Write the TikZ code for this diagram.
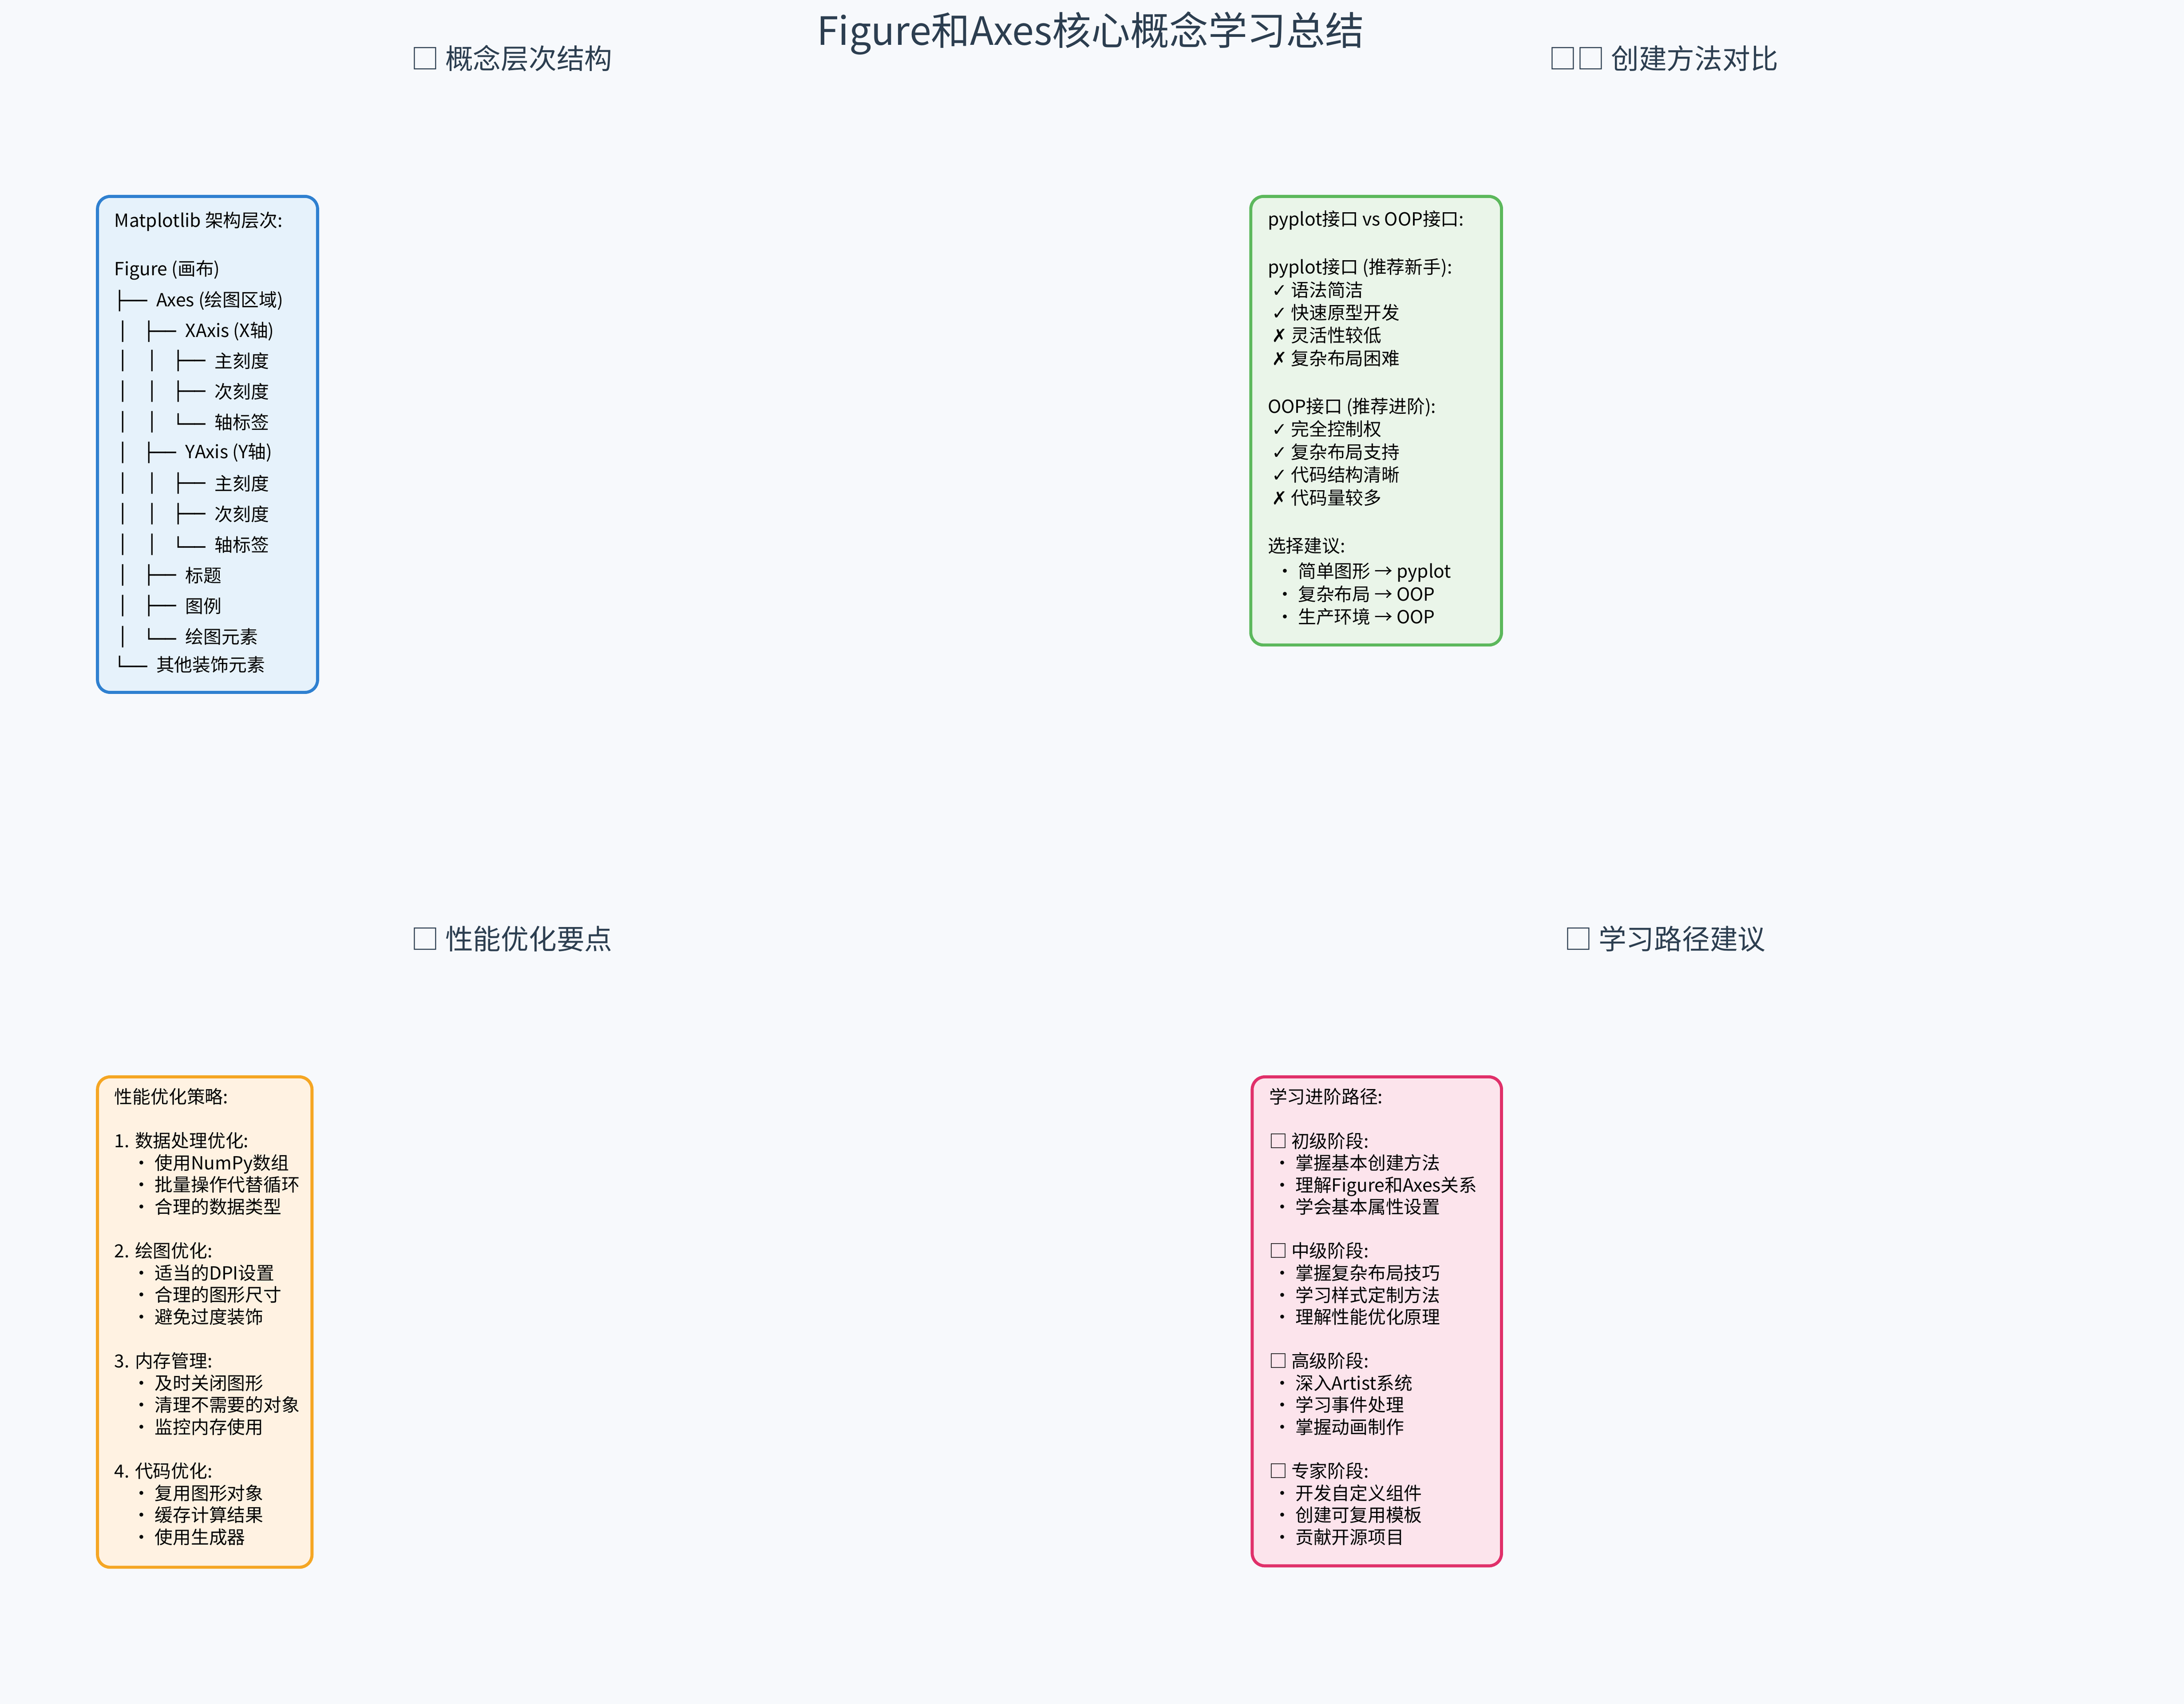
\documentclass[tikz,border=0pt]{standalone}
\usepackage{fontspec}
\setmainfont{Noto Sans CJK SC}
\newfontfamily\djv{DejaVu Sans}
\definecolor{bg}{HTML}{F7F9FC}
\definecolor{ink}{HTML}{2C3E50}
\definecolor{bbl}{HTML}{2F80D0}\definecolor{fbl}{HTML}{E6F2FB}
\definecolor{bgr}{HTML}{5CB85C}\definecolor{fgr}{HTML}{EAF5E9}
\definecolor{bor}{HTML}{F5A623}\definecolor{for}{HTML}{FFF2E2}
\definecolor{bpk}{HTML}{E0306A}\definecolor{fpk}{HTML}{FCE4EC}
\tikzset{
 panel/.style={draw=#1,line width=2.2pt,rounded corners=9pt},
 hd/.style={font=\fontsize{20}{24}\selectfont,text=ink,anchor=west,inner sep=0},
 tx/.style={font=\fontsize{13}{15}\selectfont,anchor=west,inner sep=0},
 body/.style={font=\fontsize{13}{#1}\selectfont,anchor=north west,align=left,inner sep=0},
}
\newcommand\ck{{\djv ✓}}
\newcommand\xx{{\djv ✗}}
\begin{document}
\begin{tikzpicture}[x=1pt,y=-1pt]
\fill[bg] (0,0) rectangle (1568,1223);
\useasboundingbox (0,0) rectangle (1568,1223);
\node[font=\fontsize{28}{32}\selectfont,text=ink] (title) at (783,24) {Figure和Axes核心概念学习总结};
\node[hd] (h1) at (295,42) {□ 概念层次结构};
\node[hd] (h2) at (1112,42) {□□ 创建方法对比};
\node[hd] (h3) at (295,674) {□ 性能优化要点};
\node[hd] (h4) at (1123,674) {□ 学习路径建议};
% panels
\draw[panel=bbl,fill=fbl] (70,141) rectangle (228,497);
\draw[panel=bgr,fill=fgr] (898,141) rectangle (1078,463);
\draw[panel=bor,fill=for] (70,773) rectangle (224,1125);
\draw[panel=bpk,fill=fpk] (899,773) rectangle (1078,1124);
% box 1 tree
\node[tx] (t0) at (82,159) {Matplotlib 架构层次:};
\node[tx] (t1) at (82,194) {Figure (画布)};
\foreach \y/\lab in {216/Axes (绘图区域), 477/其他装饰元素}{}
\node[tx] (b1) at (82,216) {\djv ├──}; \node[tx] (l1) at (112,216) {Axes (绘图区域)};
\foreach \y/\g/\lab in {238/├──/XAxis (X轴),325/├──/YAxis (Y轴),413/├──/标题,435/├──/图例,457/└──/绘图元素}{
 \node[tx] at (84,\y) {\djv │}; \node[tx] at (103,\y) {\djv \g}; \node[tx] at (133,\y) {\lab};}
\foreach \y/\g/\lab in {259/├──/主刻度,281/├──/次刻度,303/└──/轴标签,347/├──/主刻度,369/├──/次刻度,391/└──/轴标签}{
 \node[tx] at (84,\y) {\djv │}; \node[tx] at (105,\y) {\djv │}; \node[tx] at (124,\y) {\djv \g}; \node[tx] at (154,\y) {\lab};}
\node[tx] (b2) at (82,477) {\djv └──}; \node[tx] (l2) at (112,477) {其他装饰元素};
% box 2
\node[body=16.4] (c2) at (910,151) {pyplot接口 vs OOP接口:\\[18pt]
pyplot接口 (推荐新手):\\
\ \ck\ 语法简洁\\
\ \ck\ 快速原型开发\\
\ \xx\ 灵活性较低\\
\ \xx\ 复杂布局困难\\[18pt]
OOP接口 (推荐进阶):\\
\ \ck\ 完全控制权\\
\ \ck\ 复杂布局支持\\
\ \ck\ 代码结构清晰\\
\ \xx\ 代码量较多\\[18pt]
选择建议:\\[2pt]
\ \ • 简单图形 → pyplot\\
\ \ • 复杂布局 → OOP\\
\ \ • 生产环境 → OOP};
% box 3
\node[body=15.8] (c3) at (82,781) {性能优化策略:\\[15.8pt]
1. 数据处理优化:\\
\quad • 使用NumPy数组\\
\quad • 批量操作代替循环\\
\quad • 合理的数据类型\\[15.8pt]
2. 绘图优化:\\
\quad • 适当的DPI设置\\
\quad • 合理的图形尺寸\\
\quad • 避免过度装饰\\[15.8pt]
3. 内存管理:\\
\quad • 及时关闭图形\\
\quad • 清理不需要的对象\\
\quad • 监控内存使用\\[15.8pt]
4. 代码优化:\\
\quad • 复用图形对象\\
\quad • 缓存计算结果\\
\quad • 使用生成器};
% box 4
\node[body=15.8] (c4) at (911,781) {学习进阶路径:\\[15.8pt]
□ 初级阶段:\\
\ • 掌握基本创建方法\\
\ • 理解Figure和Axes关系\\
\ • 学会基本属性设置\\[15.8pt]
□ 中级阶段:\\
\ • 掌握复杂布局技巧\\
\ • 学习样式定制方法\\
\ • 理解性能优化原理\\[15.8pt]
□ 高级阶段:\\
\ • 深入Artist系统\\
\ • 学习事件处理\\
\ • 掌握动画制作\\[15.8pt]
□ 专家阶段:\\
\ • 开发自定义组件\\
\ • 创建可复用模板\\
\ • 贡献开源项目};
\end{tikzpicture}
\end{document}
